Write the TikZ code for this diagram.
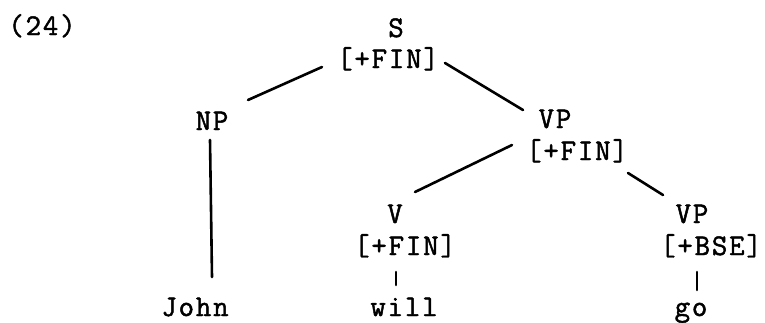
\documentclass[tikz,border=0pt]{standalone}
\usepackage{fontspec}
\newfontfamily\treefont[FakeBold=1.6,LetterSpace=6]{Latin Modern Mono}
\usetikzlibrary{calc}
\begin{document}
\begin{tikzpicture}[x=1pt, y=-1pt, line cap=round, line join=round,
                    cat/.style={anchor=base, inner sep=0pt, font=\treefont\fontsize{30}{32}\selectfont},
                    branch/.style={line width=2.6pt}]

                \useasboundingbox (0,0) rectangle (765,322);

                \node[cat] (ex) at (42,35) {(24)};

                \node[cat] (s) at (396,37) {S};
                \node[cat] (sf) at (388,68) {[+FIN]};
                \node[cat] (np) at (212,130) {NP};
                \node[cat] (vp) at (555,128) {VP};
                \node[cat] (vpf) at (577,160) {[+FIN]};
                \node[cat] (v) at (395,223) {V};
                \node[cat] (vf) at (405,255) {[+FIN]};
                \node[cat] (vpb) at (692,223) {VP};
                \node[cat] (vpbf) at (711,255) {[+BSE]};

                \node[cat] (john) at (195,316) {John};
                \node[cat] (will) at (404,316) {will};
                \node[cat] (go) at (691,316) {go};

                \draw[branch] ($(sf.base)+(-66,-1)$) -- ($(np.base)+(36,-30)$);
                \draw[branch] ($(sf.base)+(57,-5)$) -- ($(vp.base)+(-32,-18)$);
                \draw[branch] ($(np.base)+(-2,10)$) -- ($(john.base)+(17,-39)$);
                \draw[branch] ($(vpf.base)+(-65,-15)$) -- ($(v.base)+(20,-31)$);
                \draw[branch] ($(vpf.base)+(51,13)$) -- ($(vpb.base)+(-29,-28)$);
                \draw[branch] ($(vf.base)+(-9,17)$) -- ($(will.base)+(-8,-31)$);
                \draw[branch] ($(vpbf.base)+(-14,17)$) -- ($(go.base)+(6,-26)$);

            \end{tikzpicture}
\end{document}
